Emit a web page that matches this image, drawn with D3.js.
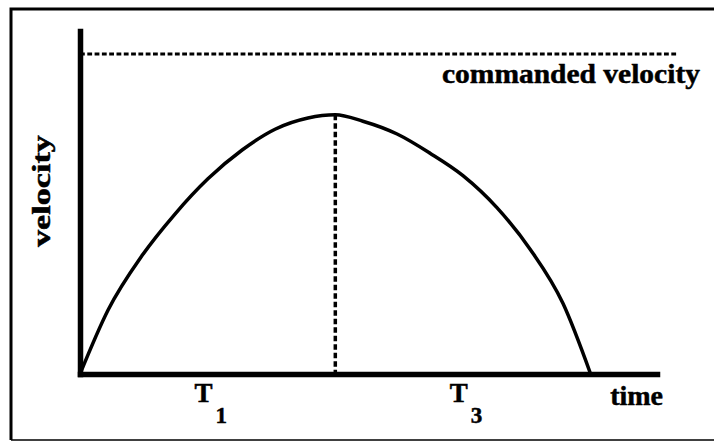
<!DOCTYPE html>
<html>
<head>
<meta charset="utf-8">
<script src="https://cdn.jsdelivr.net/npm/d3@7"></script>
<style>
  html, body { margin: 0; padding: 0; background: #fff; }
  svg { display: block; }
  text { font-family: 'Liberation Serif', 'Times New Roman', serif; font-weight: bold; fill: #000; stroke: #000; stroke-width: 0.5; }
</style>
</head>
<body>
<svg width="714" height="442"></svg>
<script>
'use strict';
// velocity profile (time in units of T1, velocity in units of commanded)
const time_pts = [0, 0.11, 0.243, 0.372, 0.501, 0.635, 0.764, 0.893, 1.0, 1.108, 1.242, 1.371, 1.5, 1.633, 1.763, 1.892, 2.0];
const vel_pts  = [0, 0.20, 0.37, 0.50, 0.61, 0.70, 0.765, 0.80, 0.81, 0.79, 0.75, 0.69, 0.62, 0.52, 0.39, 0.22, 0];
const commanded = 1.0;
const commanded_end = 2.34;
const peak_time = 1.0;
const peak_vel = 0.81;
const phase_labels = [{t: 0.5, base: 'T', sub: '1'}, {t: 1.5, base: 'T', sub: '3'}];

const svg = d3.select('svg');

// outer frame of the figure
svg.append('path')
  .attr('d', 'M716,9H11V440')
  .attr('fill', 'none')
  .attr('stroke', '#000')
  .attr('stroke-width', 3);
svg.append('path')
  .attr('d', 'M11,440H716')
  .attr('fill', 'none')
  .attr('stroke', '#000')
  .attr('stroke-width', 1.5);

const x_scale = d3.scaleLinear().domain([0, 2.26]).range([80, 657]);
const y_scale = d3.scaleLinear().domain([0, 1.072]).range([374, 31]);

//axes: thick lines, no ticks
const x_axis = svg.append('g')
  .attr('transform', `translate(0,${y_scale(0)})`)
  .call(d3.axisBottom(x_scale).tickValues([]).tickSizeOuter(0));
const y_axis = svg.append('g')
  .attr('transform', `translate(${x_scale(0)},0)`)
  .call(d3.axisLeft(y_scale).tickValues([]).tickSizeOuter(0));
[x_axis, y_axis].forEach(g => g.select('.domain')
  .attr('stroke', '#000')
  .attr('stroke-width', 5.5)
  .attr('stroke-linecap', 'square'));

//commanded velocity dashed line
svg.append('line')
  .attr('x1', x_scale(0)).attr('x2', x_scale(commanded_end))
  .attr('y1', y_scale(commanded)).attr('y2', y_scale(commanded))
  .attr('stroke', '#000')
  .attr('stroke-width', 3)
  .attr('stroke-dasharray', '4.8,2.5');

//peak marker
svg.append('line')
  .attr('x1', x_scale(peak_time)).attr('x2', x_scale(peak_time))
  .attr('y1', y_scale(peak_vel)).attr('y2', y_scale(0))
  .attr('stroke', '#000')
  .attr('stroke-width', 3.5)
  .attr('stroke-dasharray', '5.5,3');

//velocity curve
const curve_data = time_pts.map((t, i) => ({t: t, v: vel_pts[i]}));
const line = d3.line()
  .x(d => x_scale(d.t))
  .y(d => y_scale(d.v))
  .curve(d3.curveMonotoneX);
svg.append('path')
  .datum(curve_data)
  .attr('d', line)
  .attr('fill', 'none')
  .attr('stroke', '#000')
  .attr('stroke-width', 3.5);

// stretch a label horizontally (in its own frame) to the width seen in the scan
const fit_width = (sel, w) => {
  const natural = sel.node().getComputedTextLength();
  sel.attr('transform', (sel.attr('transform') || '') + ` scale(${w / natural},1)`);
};

//labels
const cmd_label = svg.append('text')
  .attr('transform', `translate(442,${y_scale(commanded) + 29})`)
  .attr('font-size', 28)
  .text('commanded velocity');
fit_width(cmd_label, 258);

const vel_label = svg.append('text')
  .attr('transform', 'translate(50,247) rotate(-90)')
  .attr('font-size', 25)
  .text('velocity');
fit_width(vel_label, 112);

svg.append('text')
  .attr('x', x_scale.range()[1] + 6)
  .attr('y', 405)
  .attr('text-anchor', 'end')
  .attr('font-size', 28)
  .text('time');

const phase = svg.selectAll('.phase').data(phase_labels).enter()
  .append('text')
  .attr('class', 'phase')
  .attr('x', d => x_scale(d.t) + 3)
  .attr('y', 402)
  .attr('text-anchor', 'middle')
  .attr('font-size', 27);
phase.append('tspan').text(d => d.base);
phase.append('tspan')
  .attr('dx', 3)
  .attr('dy', 21)
  .attr('font-size', 23)
  .text(d => d.sub);
</script>
</body>
</html>
